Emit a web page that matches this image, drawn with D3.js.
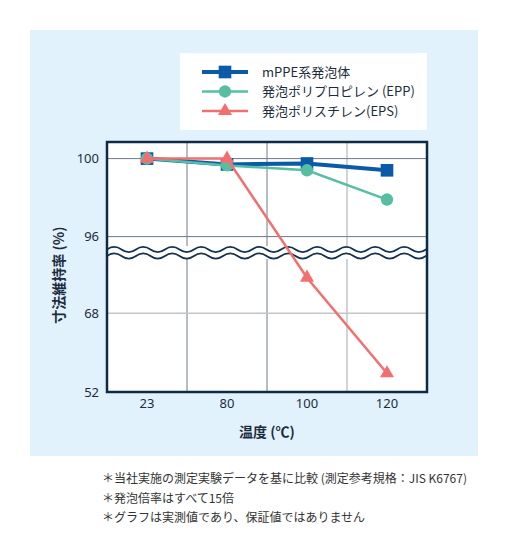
<!DOCTYPE html>
<html>
<head>
<meta charset="utf-8">
<script src="https://cdn.jsdelivr.net/npm/d3@7"></script>
<style>
  body { margin: 0; background: #fff; font-family: "Noto Sans CJK JP", "Noto Sans", sans-serif; }
  svg text { fill: #1c2c3c; }
</style>
</head>
<body>
<svg id="chart" width="510" height="551"></svg>
<script>
// data
const temps = ["23", "80", "100", "120"]
const mppe = [100, 99.7, 99.75, 99.4]
const epp = [100, 99.65, 99.4, 97.9]
const eps = [100, 100, 81, 55.8]
const yTicks = [52, 68, 96, 100]
const seriesNames = ["mPPE系発泡体", "発泡ポリプロピレン (EPP)", "発泡ポリスチレン(EPS)"]
const notes = [
  "＊当社実施の測定実験データを基に比較 (測定参考規格：JIS K6767)",
  "＊発泡倍率はすべて15倍",
  "＊グラフは実測値であり、保証値ではありません"
]

const svg = d3.select("#chart")
const plot = { left: 107, right: 427, top: 142, bottom: 392 }

// light blue panel
svg.append("rect").attr("x", 30).attr("y", 30).attr("width", 448).attr("height", 426).attr("fill", "#e2f2fc")

svg.append("clipPath").attr("id", "plotclip").append("rect")
  .attr("x", plot.left).attr("y", plot.top)
  .attr("width", plot.right - plot.left).attr("height", plot.bottom - plot.top)

const x = d3.scaleBand().domain(temps).range([plot.left, plot.right])
// broken axis: two linear segments
const y = d3.scaleLinear().domain([52, 68, 96, 100]).range([plot.bottom, 313.3, 236.6, 158.6])

svg.append("rect")
  .attr("x", plot.left).attr("y", plot.top)
  .attr("width", plot.right - plot.left).attr("height", plot.bottom - plot.top)
  .attr("fill", "#fff")

// grid
const darkGrid = "#6e7a87", lightGrid = "#c2c6ca"
temps.slice(1).forEach((t, i) => {
  svg.append("line")
    .attr("x1", x(t)).attr("x2", x(t)).attr("y1", plot.top).attr("y2", plot.bottom)
    .attr("stroke", i < 2 ? darkGrid : lightGrid).attr("stroke-width", i < 2 ? 1 : 1.5)
})
yTicks.slice(1).forEach(v => {
  svg.append("line")
    .attr("x1", plot.left).attr("x2", plot.right).attr("y1", y(v)).attr("y2", y(v))
    .attr("stroke", v == 68 ? lightGrid : darkGrid).attr("stroke-width", v == 68 ? 1.5 : 1)
})

// axis break waves
function wave(y0) {
  let period = 29, amp = 2.6
  let p = `M${plot.left},${y0}`
  for (let xx = plot.left, k = 0; xx < plot.right; xx += period / 2, k++) {
    let dir = k % 2 == 0 ? -1 : 1
    p += ` Q${xx + period / 4},${y0 + dir * amp * 2} ${xx + period / 2},${y0}`
  }
  return p
}
const brk = svg.append("g").attr("clip-path", "url(#plotclip)")
brk.append("rect").attr("x", plot.left).attr("y", 246).attr("width", plot.right - plot.left).attr("height", 13).attr("fill", "#fff")
;[249.5, 256].forEach(yy => {
  brk.append("path").attr("d", wave(yy)).attr("fill", "none").attr("stroke", "#15324e").attr("stroke-width", 1.8)
})

// frame
svg.append("rect")
  .attr("x", plot.left).attr("y", plot.top)
  .attr("width", plot.right - plot.left).attr("height", plot.bottom - plot.top)
  .attr("fill", "none").attr("stroke", "#0f2a44").attr("stroke-width", 2.5)

// axes
const yAxis = svg.append("g").attr("transform", `translate(${plot.left},0)`)
  .call(d3.axisLeft(y).tickValues(yTicks).tickSize(0).tickPadding(8))
yAxis.select(".domain").remove()
yAxis.selectAll("text").attr("font-size", 13).attr("font-family", "Noto Sans, sans-serif").attr("fill", "#1c2c3c")

const xAxis = svg.append("g").attr("transform", `translate(0,${plot.bottom})`)
  .call(d3.axisBottom(x).tickSize(0).tickPadding(7))
xAxis.select(".domain").remove()
xAxis.selectAll("text").attr("font-size", 13).attr("font-family", "Noto Sans, sans-serif").attr("fill", "#1c2c3c")

svg.append("text").attr("x", 267).attr("y", 437).attr("text-anchor", "middle")
  .attr("font-size", 14).attr("font-weight", "bold").text("温度 (℃)")
svg.append("text").attr("transform", "translate(64,275) rotate(-90)").attr("text-anchor", "middle")
  .attr("font-size", 14).attr("font-weight", "bold").text("寸法維持率 (%)")

// series
const series = [
  { name: seriesNames[0], values: mppe, color: "#0b5aa8", width: 4, marker: "square" },
  { name: seriesNames[1], values: epp, color: "#57bea2", width: 2.5, marker: "circle" },
  { name: seriesNames[2], values: eps, color: "#f36f6f", width: 2.5, marker: "triangle" }
]
const symbolFor = {
  square: d3.symbol(d3.symbolSquare, 160),
  circle: d3.symbol(d3.symbolCircle, 120),
  triangle: d3.symbol(d3.symbolTriangle, 85)
}
const line = d3.line().x((d, i) => x(temps[i]) + x.bandwidth() / 2).y(d => y(d))

series.forEach(s => {
  svg.append("path").attr("d", line(s.values)).attr("fill", "none")
    .attr("stroke", s.color).attr("stroke-width", s.width)
  svg.append("g").selectAll("path").data(s.values).join("path")
    .attr("d", symbolFor[s.marker])
    .attr("transform", (d, i) => `translate(${x(temps[i]) + x.bandwidth() / 2},${y(d)})`)
    .attr("fill", s.color)
})

// legend
svg.append("rect").attr("x", 180).attr("y", 53).attr("width", 247).attr("height", 77).attr("fill", "#fff")
series.forEach((s, i) => {
  let ly = 72 + i * 19.5
  svg.append("line").attr("x1", 202).attr("x2", 248).attr("y1", ly).attr("y2", ly)
    .attr("stroke", s.color).attr("stroke-width", s.width)
  svg.append("path").attr("d", symbolFor[s.marker]).attr("transform", `translate(225,${ly})`).attr("fill", s.color)
  svg.append("text").attr("x", 262).attr("y", ly + 4.5).attr("font-size", 13).text(s.name)
})

// notes
notes.forEach((n, i) => {
  svg.append("text").attr("x", 102).attr("y", 483 + i * 19.5).attr("font-size", 12)
    .style("fill", "#333").text(n)
})
</script>
</body>
</html>
